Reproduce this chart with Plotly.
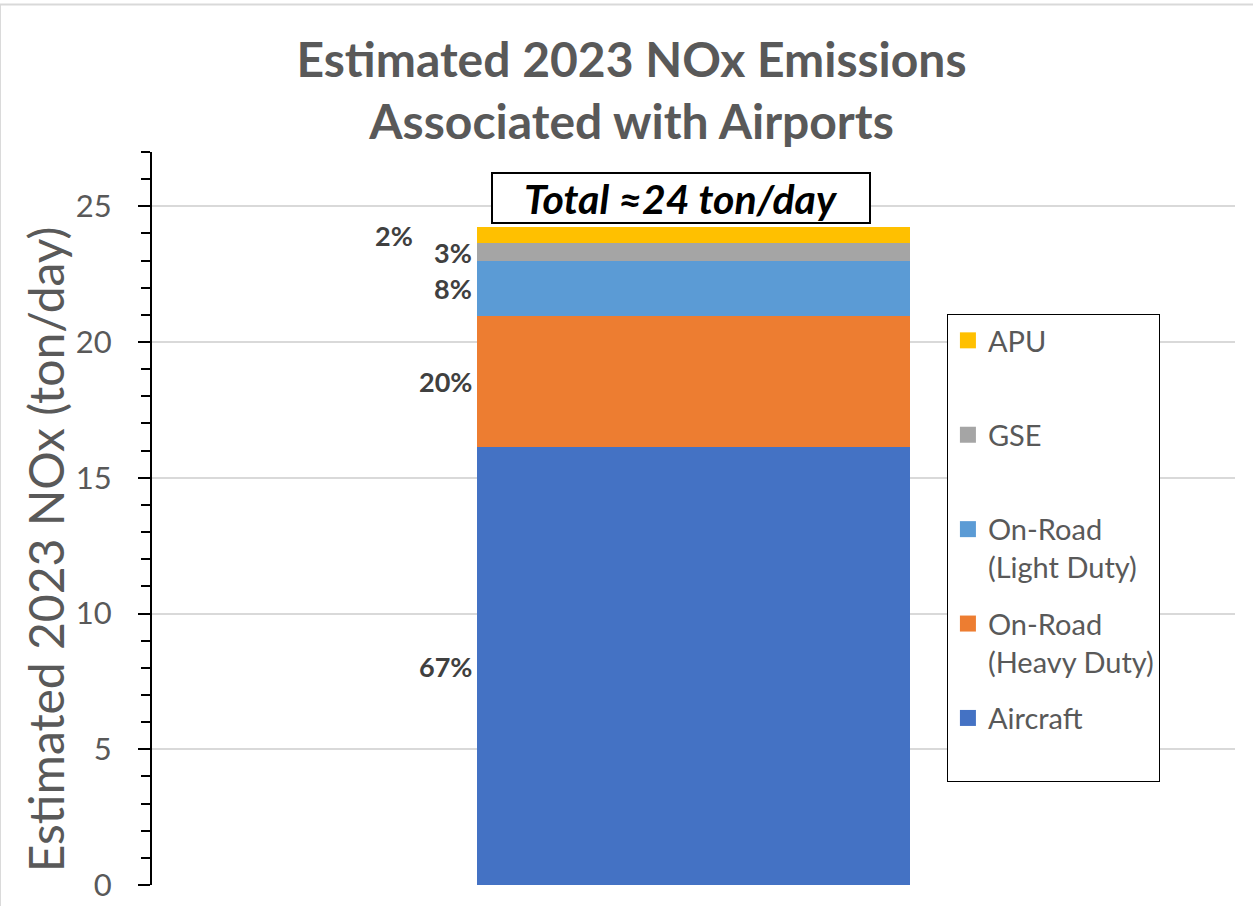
import plotly.graph_objects as go

categories = ["2023"]
sources = ["Aircraft", "On-Road (Heavy Duty)", "On-Road (Light Duty)", "GSE", "APU"]
legend_names = ["Aircraft<br> ", "On-Road<br>(Heavy Duty)", "On-Road<br>(Light Duty)", "GSE<br> ", "APU<br> "]
values = [16.13, 4.82, 2.05, 0.63, 0.59]
pct_labels = ["67%", "20%", "8%", "3%", "2%"]
colors = ["#4472C4", "#ED7D31", "#5B9BD5", "#A5A5A5", "#FFC000"]
y_ticks = [0, 5, 10, 15, 20, 25]
total_label = "Total ≈24 ton/day"
y_title = "Estimated 2023 NOx (ton/day)"

FONT = "Lato"
GREY = "#595959"
BAR_W = 0.40

fig = go.Figure()
n = len(values)
for i, (src, v, c) in enumerate(zip(sources, values, colors)):
    fig.add_trace(go.Bar(
        x=[0], y=[v], name=src, marker=dict(color=c, line=dict(width=0)),
        width=BAR_W, legendgroup=f"g{i}", showlegend=False, hoverinfo="skip",
    ))
# legend entries (larger square swatches than the default bar swatch)
for i, (name, c) in enumerate(zip(legend_names, colors)):
    fig.add_trace(go.Scatter(
        x=[None], y=[None], mode="markers", name=name,
        marker=dict(symbol="square", size=16, color=c),
        legendgroup=f"g{i}", legendrank=n - i, hoverinfo="skip",
    ))

# percentage labels, centred on each segment, to the left of the bar
cum = 0.0
for i, (v, lab) in enumerate(zip(values, pct_labels)):
    mid = cum + v / 2
    cum += v
    fig.add_annotation(
        x=-BAR_W / 2, y=mid, xref="x", yref="y", text=f"<b>{lab}</b>",
        showarrow=False, xanchor="right", yanchor="middle",
        xshift=-62 if i == n - 1 else -3,
        font=dict(family=FONT, size=27, color="#404040"),
    )

fig.add_annotation(
    x=-0.012, y=25.3, xref="x", yref="y", text=f"<b><i>{total_label}</i></b>",
    showarrow=False, xanchor="center", yanchor="middle",
    font=dict(family=FONT, size=41, color="#000000"),
    bgcolor="#ffffff", bordercolor="#000000", borderwidth=2,
    width=374, height=46,
)

# y-axis title (placed as in the reference, slightly below the plot centre)
fig.add_annotation(
    x=-0.0988, y=0.458, xref="paper", yref="paper", text=y_title,
    textangle=-90, showarrow=False, xanchor="center", yanchor="middle",
    font=dict(family=FONT, size=48, color=GREY),
)

# chart area border
fig.add_shape(type="rect", xref="paper", yref="paper",
              x0=-0.1404, x1=1.05, y0=-0.05, y1=1.2012,
              line=dict(color="#d9d9d9", width=2), layer="below")

fig.update_layout(
    width=1253, height=906,
    margin=dict(l=152, r=18, t=152, b=21, autoexpand=False),
    paper_bgcolor="#ffffff", plot_bgcolor="#ffffff",
    barmode="stack", bargap=0,
    title=dict(text="<b>Estimated 2023 NOx Emissions<br>Associated with Airports</b>",
               x=0.504, xanchor="center", xref="container",
               y=0.915, yanchor="top", yref="container",
               font=dict(family=FONT, size=48, color=GREY)),
    font=dict(family=FONT, color=GREY),
    showlegend=True,
    legend=dict(x=0.734, y=0.779, xanchor="left", yanchor="top",
                bordercolor="#000000", borderwidth=1, bgcolor="#ffffff",
                traceorder="grouped", tracegroupgap=16, valign="top",
                itemsizing="trace",
                font=dict(family=FONT, size=29, color=GREY)),
    xaxis=dict(range=[-0.5, 0.5], showticklabels=False, showgrid=False,
               zeroline=False, showline=False, ticks="", fixedrange=True,
               automargin=False),
    yaxis=dict(range=[0, 27], tickvals=y_ticks, showgrid=True, gridcolor="#d9d9d9",
               gridwidth=1.5, zeroline=False, showline=True, linecolor="#000000",
               linewidth=2, ticks="outside", ticklen=12, tickwidth=2, tickcolor="#000000",
               ticklabelstandoff=20, automargin=False,
               tickfont=dict(family=FONT, size=31, color=GREY),
               minor=dict(dtick=1, ticks="outside", ticklen=9, tickwidth=2,
                          tickcolor="#000000", showgrid=False)),
    yaxis2=dict(range=[0, 27], overlaying="y", side="left", anchor="x",
                tickvals=y_ticks, ticks="inside", ticklen=12, tickwidth=2,
                tickcolor="#000000", showticklabels=False, showgrid=False,
                zeroline=False, showline=False, automargin=False),
)

fig.write_html("out.html", config={"displayModeBar": False},
               post_script="document.body.style.margin='0';")
